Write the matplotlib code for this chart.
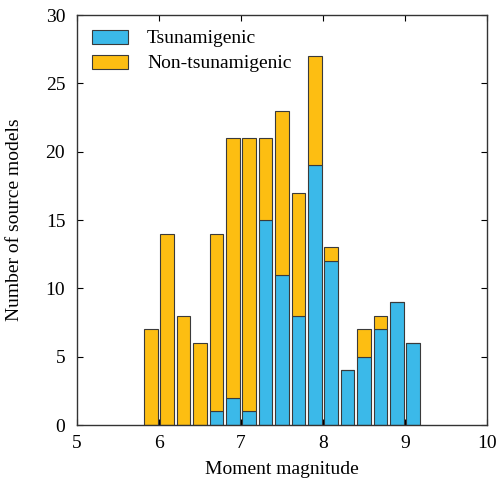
import matplotlib
matplotlib.use("Agg")
import matplotlib.pyplot as plt
import numpy as np

plt.rcParams['font.family'] = ['Liberation Serif', 'DejaVu Serif']

magnitudes = [5.9, 6.1, 6.3, 6.5, 6.7, 6.9, 7.1, 7.3, 7.5, 7.7, 7.9, 8.1, 8.3, 8.5, 8.7, 8.9, 9.1]
tsunamigenic = [0, 0, 0, 0, 1, 2, 1, 15, 11, 8, 19, 12, 4, 5, 7, 9, 6]
non_tsunamigenic = [7, 14, 8, 6, 13, 19, 20, 6, 12, 9, 8, 1, 0, 2, 1, 0, 0]

blue = '#3BB9E9'
yellow = '#FDBE12'
edge = '#3a3a3a'

fig = plt.figure(figsize=(4.97, 4.86), dpi=100)
ax = fig.add_axes([0.155, 0.1255, 0.825, 0.8435])

w = 0.165
ax.bar(magnitudes, tsunamigenic, width=w, color=blue, edgecolor=edge, linewidth=0.8, label='Tsunamigenic')
ax.bar(magnitudes, non_tsunamigenic, width=w, bottom=tsunamigenic, color=yellow, edgecolor=edge, linewidth=0.8, label='Non-tsunamigenic')

ax.set_xlim(5, 10)
ax.set_ylim(0, 30)
ax.set_xticks([5, 6, 7, 8, 9, 10])
ax.set_yticks([0, 5, 10, 15, 20, 25, 30])
ax.tick_params(direction='in', top=True, right=True, labelsize=14, length=4, width=0.8)
ax.tick_params(axis='y', pad=8.5)
ax.tick_params(axis='x', pad=7.5)
for s in ax.spines.values():
    s.set_linewidth(1.0)
    s.set_color('#333333')
ax.set_xlabel('Moment magnitude', fontsize=14, labelpad=6)
ax.set_ylabel('Number of source models', fontsize=14, labelpad=16)
ax.legend(loc='upper left', frameon=False, fontsize=14, handlelength=1.85, handleheight=0.72,
          borderaxespad=0.35, labelspacing=0.38, handletextpad=1.0)

fig.savefig('out.png', dpi=100)
